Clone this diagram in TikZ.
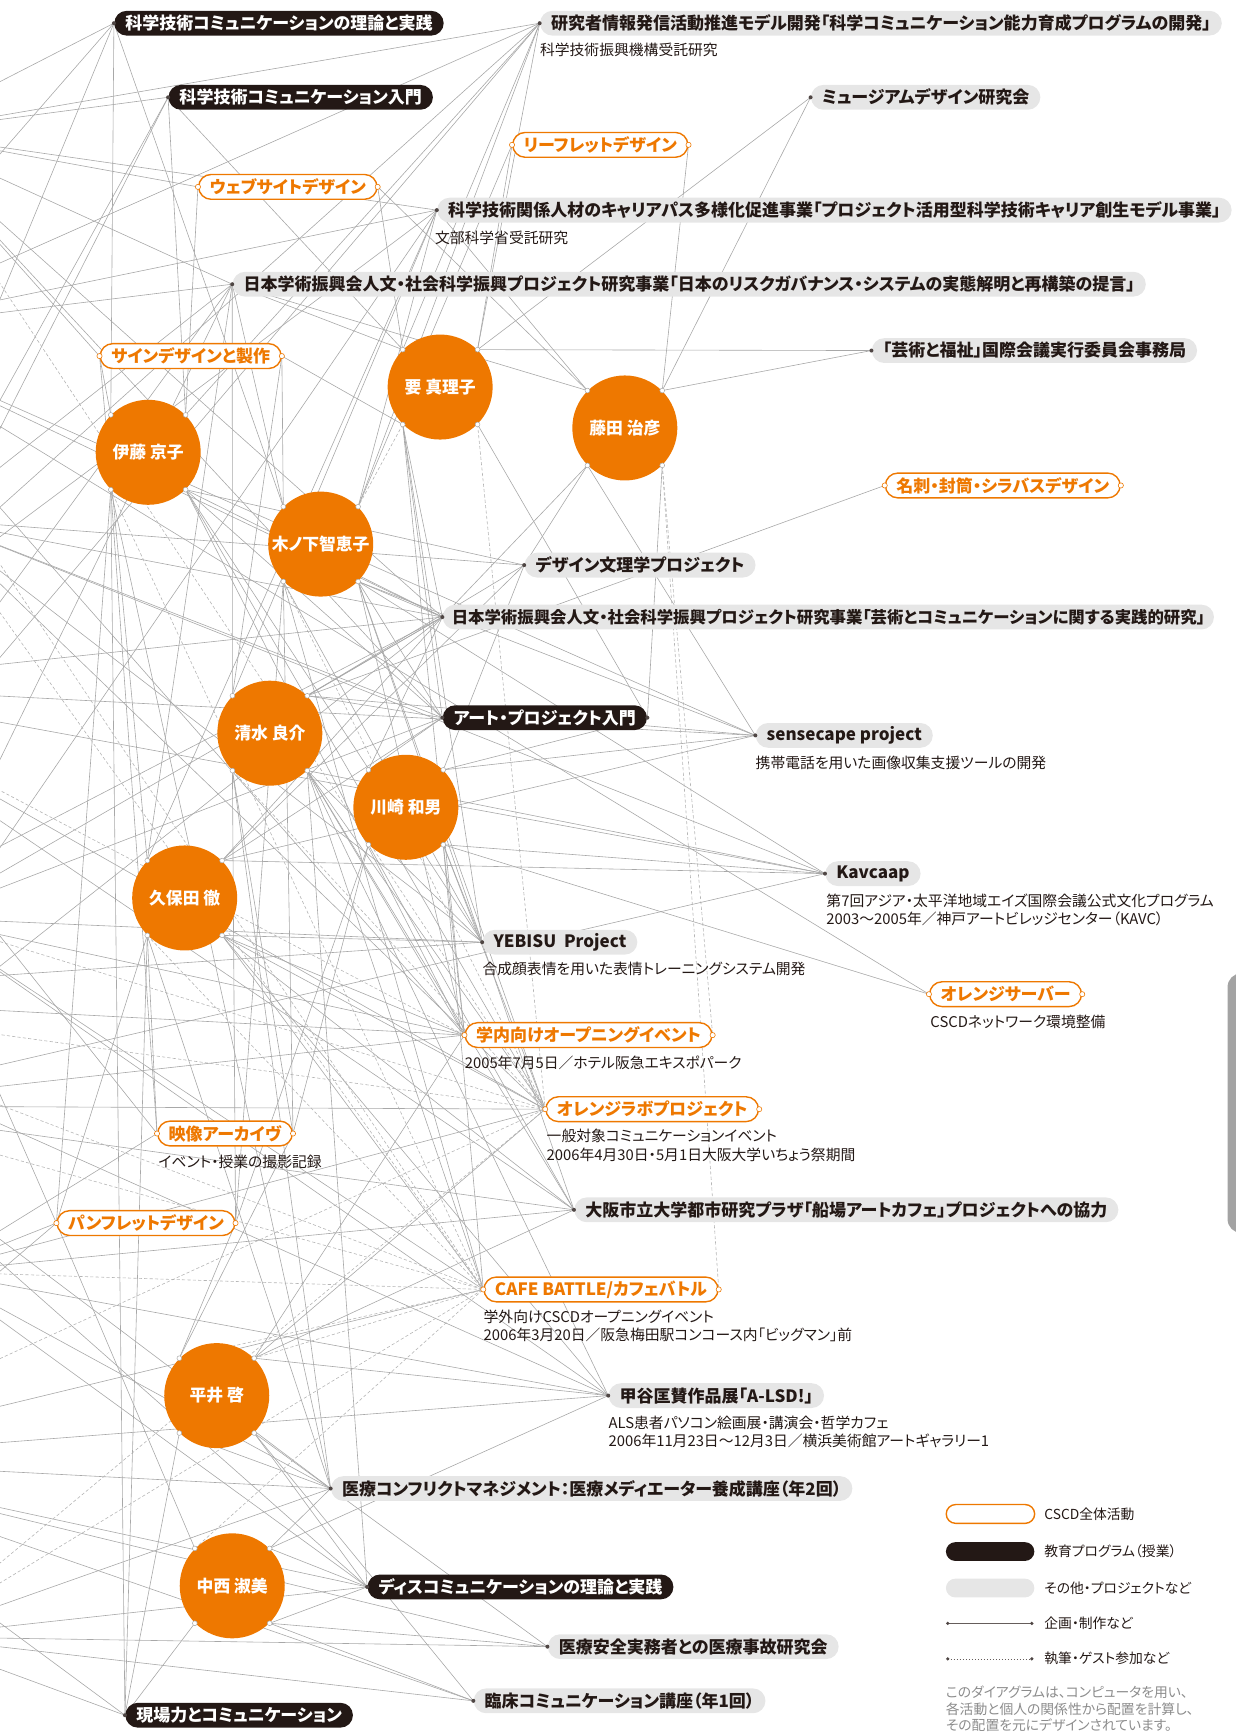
\documentclass[tikz,border=0pt]{standalone}
\usepackage{fontspec}
\setmainfont{Noto Sans CJK JP}[RawFeature=+palt]
\usetikzlibrary{backgrounds}

\definecolor{cscdorange}{HTML}{EE7800}
\definecolor{edublack}{HTML}{231815}
\definecolor{projgray}{HTML}{E6E6E6}
\definecolor{linegray}{HTML}{A8A8A8}
\definecolor{notegray}{HTML}{8C8C8C}
\definecolor{tabgray}{HTML}{A3A3A3}

\newcommand\labfont{\fontsize{8.5pt}{10pt}\selectfont\bfseries}
\newcommand\namefont{\fontsize{8.4pt}{10pt}\selectfont\bfseries}
\newcommand\subfont{\fontsize{7.4pt}{9pt}\selectfont}
\newcommand\legfont{\fontsize{6.9pt}{8pt}\selectfont}

\tikzset{
  pill/.style={rectangle, rounded corners=6.2pt, minimum height=12.4pt,
    inner xsep=5.5pt, inner ysep=0pt, font=\labfont, anchor=west},
  edu/.style={pill, fill=edublack, text=white},
  proj/.style={pill, fill=projgray, text=edublack},
  cscd/.style={pill, draw=cscdorange, line width=0.7pt, fill=white, text=cscdorange},
  person/.style={circle, fill=cscdorange, minimum size=52.5pt, inner sep=0pt,
    text=white, font=\namefont},
  subline/.style={font=\subfont, text=edublack, inner sep=0pt, anchor=west},
  legtext/.style={font=\legfont, text=edublack, inner sep=0pt, anchor=west},
  notetext/.style={font=\legfont, text=notegray, inner sep=0pt, anchor=west},
  link/.style={draw=linegray, line width=0.3pt},
  dlink/.style={draw=linegray!85, line width=0.3pt, dash pattern=on 1.6pt off 1.1pt},
  enddot/.style={fill=edublack!80},
  cscddot/.style={draw=cscdorange, fill=white, line width=0.3pt},
  persondot/.style={draw=linegray, fill=white, line width=0.25pt},
}

\begin{document}
\begin{tikzpicture}[x=0.5528pt, y=-0.5528pt]
\useasboundingbox (0,0) rectangle (1117,1568);

% side tab at the right edge
\fill[tabgray, rounded corners=7pt] (1110,880) rectangle (1150,1115);

% ---------- education programmes ----------
\node[edu] (B1) at (103,21) {科学技術コミュニケーションの理論と実践};
\node[edu] (B2) at (152,88) {科学技術コミュニケーション入門};
\node[edu] (B3) at (400,649) {アート・プロジェクト入門};
\node[edu] (B4) at (332,1435) {ディスコミュニケーションの理論と実践};
\node[edu] (B5) at (113,1551) {現場力とコミュニケーション};

% ---------- projects ----------
\node[proj] (G1) at (488,21) {研究者情報発信活動推進モデル開発「科学コミュニケーション能力育成プログラムの開発」};
\node[proj] (G2) at (733,88) {ミュージアムデザイン研究会};
\node[proj] (G3) at (395,190) {科学技術関係人材のキャリアパス多様化促進事業「プロジェクト活用型科学技術キャリア創生モデル事業」};
\node[proj] (G4) at (210,257) {日本学術振興会人文・社会科学振興プロジェクト研究事業「日本のリスクガバナンス・システムの実態解明と再構築の提言」};
\node[proj] (G5) at (788,317) {「芸術と福祉」国際会議実行委員会事務局};
\node[proj] (G6) at (474,511) {デザイン文理学プロジェクト};
\node[proj, font=\fontsize{8.2pt}{10pt}\selectfont\bfseries, inner xsep=4.5pt] (G7) at (400,558) {日本学術振興会人文・社会科学振興プロジェクト研究事業「芸術とコミュニケーションに関する実践的研究」};
\node[proj] (G8) at (683,665) {sensecape project};
\node[proj] (G9) at (746,790) {Kavcaap};
\node[proj] (G10) at (436,852) {YEBISU\ \ Project};
\node[proj] (G11) at (519,1094) {大阪市立大学都市研究プラザ「船場アートカフェ」プロジェクトへの協力};
\node[proj] (G12) at (550,1262) {甲谷匡賛作品展「A-LSD!」};
\node[proj] (G13) at (299,1346) {医療コンフリクトマネジメント：医療メディエーター養成講座（年2回）};
\node[proj] (G14) at (495,1489) {医療安全実務者との医療事故研究会};
\node[proj] (G15) at (428,1538) {臨床コミュニケーション講座（年1回）};

% ---------- CSCD-wide activities ----------
\node[cscd] (O1) at (463,131) {リーフレットデザイン};
\node[cscd] (O2) at (179,169) {ウェブサイトデザイン};
\node[cscd] (O3) at (90,322) {サインデザインと製作};
\node[cscd] (O4) at (800,439) {名刺・封筒・シラバスデザイン};
\node[cscd] (O5) at (840,899) {オレンジサーバー};
\node[cscd] (O6) at (420,936) {学内向けオープニングイベント};
\node[cscd] (O7) at (493,1003) {オレンジラボプロジェクト};
\node[cscd] (O8) at (142,1025) {映像アーカイヴ};
\node[cscd] (O9) at (51,1106) {パンフレットデザイン};
\node[cscd] (O10) at (437,1166) {CAFE BATTLE/カフェバトル};

% ---------- captions ----------
\node[subline] (sG1) at (488,45) {科学技術振興機構受託研究};
\node[subline] (sG3) at (393,215) {文部科学省受託研究};
\node[subline] (sG8) at (683,690) {携帯電話を用いた画像収集支援ツールの開発};
\node[subline] (sG9a) at (747,815) {第7回アジア・太平洋地域エイズ国際会議公式文化プログラム};
\node[subline] (sG9b) at (747,831) {2003〜2005年／神戸アートビレッジセンター（KAVC）};
\node[subline] (sG10) at (436,876) {合成顔表情を用いた表情トレーニングシステム開発};
\node[subline] (sO5) at (841,924) {CSCDネットワーク環境整備};
\node[subline] (sO6) at (420,961) {2005年7月5日／ホテル阪急エキスポパーク};
\node[subline] (sO7a) at (494,1027) {一般対象コミュニケーションイベント};
\node[subline] (sO7b) at (494,1044) {2006年4月30日・5月1日大阪大学いちょう祭期間};
\node[subline] (sO8) at (143,1051) {イベント・授業の撮影記録};
\node[subline] (sO10a) at (437,1191) {学外向けCSCDオープニングイベント};
\node[subline] (sO10b) at (437,1207) {2006年3月20日／阪急梅田駅コンコース内「ビッグマン」前};
\node[subline] (sG12a) at (550,1287) {ALS患者パソコン絵画展・講演会・哲学カフェ};
\node[subline] (sG12b) at (550,1303) {2006年11月23日〜12月3日／横浜美術館アートギャラリー1};

% ---------- people ----------
\node[person] (ito) at (134,409) {伊藤 京子};
\node[person] (kaname) at (398,350) {要 真理子};
\node[person] (fujita) at (565,387) {藤田 治彦};
\node[person] (kino) at (290,492) {木ノ下智恵子};
\node[person] (shimizu) at (244,663) {清水 良介};
\node[person] (kawa) at (367,730) {川崎 和男};
\node[person] (kubota) at (167,812) {久保田 徹};
\node[person] (hirai) at (196,1262) {平井 啓};
\node[person] (naka) at (210,1434) {中西 淑美};

\foreach \p in {ito,kaname,fujita,kino,shimizu,kawa,kubota,hirai,naka}{
  \coordinate (\p-nw) at (\p.north west);
  \coordinate (\p-ne) at (\p.north east);
  \coordinate (\p-sw) at (\p.south west);
  \coordinate (\p-se) at (\p.south east);
}

% members placed beyond the left edge
\coordinate (X1) at (-90,120);
\coordinate (X2) at (-140,300);
\coordinate (X3) at (-60,470);
\coordinate (X4) at (-180,620);
\coordinate (X5) at (-70,830);
\coordinate (X6) at (-160,1000);
\coordinate (X7) at (-60,1150);
\coordinate (X8) at (-200,1320);
\coordinate (X9) at (-80,1480);
\coordinate (X10) at (-260,900);

% ---------- legend ----------
\node[cscd, minimum width=44.2pt, minimum height=9.4pt, rounded corners=4.7pt] (leg1) at (855,1369) {};
\node[edu, minimum width=44.2pt, minimum height=9.4pt, rounded corners=4.7pt] (leg2) at (855,1403) {};
\node[proj, minimum width=44.2pt, minimum height=9.4pt, rounded corners=4.7pt] (leg3) at (855,1436) {};
\node[legtext] (lt1) at (944,1369) {CSCD全体活動};
\node[legtext] (lt2) at (944,1403) {教育プログラム（授業）};
\node[legtext] (lt3) at (944,1436) {その他・プロジェクトなど};
\node[legtext] (lt4) at (944,1468) {企画・制作など};
\node[legtext] (lt5) at (944,1500) {執筆・ゲスト参加など};
\coordinate (l4a) at (857,1468); \coordinate (l4b) at (933,1468);
\coordinate (l5a) at (857,1500); \coordinate (l5b) at (933,1500);
\draw[link, draw=edublack!70] (l4a) -- (l4b);
\draw[draw=edublack!70, line width=0.32pt, dash pattern=on 0.6pt off 0.9pt] (l5a) -- (l5b);
\foreach \c in {l4a,l4b,l5a,l5b} \fill[enddot] (\c) circle (0.9pt);
\node[notetext] (n1) at (855,1530) {このダイアグラムは、コンピュータを用い、};
\node[notetext] (n2) at (855,1546) {各活動と個人の関係性から配置を計算し、};
\node[notetext] (n3) at (855,1560) {その配置を元にデザインされています。};

% ---------- connections ----------
\begin{pgfonlayer}{background}
\foreach \a/\b in {
  ito-nw/B1.west, ito-nw/O3.west, ito-ne/B2.west, ito-ne/O2.west, ito-ne/G1.west,
  ito-se/G7.west, ito-se/B3.west, ito-se/G10.west, ito-se/O6.west, ito-se/O7.west,
  ito-se/G6.west, ito-sw/O8.west, ito-sw/O9.west, ito-sw/G13.west, ito-sw/B5.west,
  kaname-nw/O2.east, kaname-nw/G4.west, kaname-nw/B2.west, kaname-nw/G1.west,
  kaname-ne/G5.west, kaname-ne/G2.west, kaname-ne/O1.west, kaname-ne/G1.west,
  kaname-sw/G7.west, kaname-sw/B3.west, kaname-sw/O6.west, kaname-sw/G10.west,
  kaname-sw/O3.east, kaname-se/B3.east,
  fujita-nw/O2.east, fujita-nw/G3.west, fujita-nw/G4.west, fujita-ne/O1.east,
  fujita-ne/G2.west, fujita-ne/G5.west, fujita-sw/G6.west, fujita-sw/G7.west,
  fujita-sw/G8.west, fujita-se/B3.east,
  kino-nw/O3.east, kino-nw/G4.west, kino-nw/B1.west, kino-ne/G1.west,
  kino-ne/O1.west, kino-ne/G3.west, kino-se/G7.west, kino-se/G8.west,
  kino-se/G9.west, kino-se/B3.west, kino-se/O7.west, kino-se/O6.west,
  kino-se/G11.west, kino-sw/O8.east, kino-sw/G10.west, kino-sw/O10.west,
  kino-sw/O9.east,
  shimizu-nw/G4.west, shimizu-nw/O3.east, shimizu-nw/G3.west, shimizu-ne/O4.west,
  shimizu-ne/G6.west, shimizu-ne/G7.west, shimizu-ne/B3.west, shimizu-ne/G8.west,
  shimizu-se/G9.west, shimizu-se/G10.west, shimizu-se/O6.west, shimizu-se/O7.west,
  shimizu-se/O10.west, shimizu-se/G11.west, shimizu-se/G12.west, shimizu-se/B4.west,
  shimizu-sw/O8.east, shimizu-sw/O9.east, shimizu-sw/G13.west,
  kawa-nw/G7.west, kawa-nw/B3.west, kawa-ne/G8.west, kawa-ne/G6.west,
  kawa-ne/B3.east, kawa-se/G9.west, kawa-se/G10.west, kawa-se/O5.west,
  kawa-se/O6.west, kawa-se/O7.west, kawa-se/O10.west, kawa-sw/O8.east,
  kawa-sw/O9.east, kawa-sw/G11.west,
  kubota-nw/G4.west, kubota-nw/O3.west, kubota-nw/G3.west, kubota-ne/G7.west,
  kubota-ne/B3.west, kubota-ne/G8.west, kubota-ne/G9.west, kubota-ne/G6.west,
  kubota-se/O6.west, kubota-se/O7.west, kubota-se/O10.west, kubota-se/G11.west,
  kubota-se/G12.west, kubota-se/G10.west, kubota-sw/O8.west, kubota-sw/O9.west,
  kubota-sw/G13.west, kubota-sw/B5.west,
  hirai-nw/O9.east, hirai-nw/O8.east, hirai-ne/O7.west, hirai-ne/O6.west,
  hirai-ne/G11.west, hirai-ne/G12.west, hirai-se/B4.west, hirai-se/G15.west,
  hirai-se/G14.west, hirai-sw/B5.west, hirai-sw/G13.west,
  naka-ne/G13.west, naka-ne/B4.west, naka-ne/G12.west, naka-se/G14.west,
  naka-se/B4.west, naka-se/G15.west, naka-sw/B5.west, naka-nw/O9.west,
  X1/B1.west, X1/B2.west, X1/G1.west, X1/G3.west, X1/G4.west, X1/O2.west,
  X1/O3.west, X1/G7.west, X1/B3.west,
  X2/B1.west, X2/G1.west, X2/G3.west, X2/G4.west, X2/G7.west, X2/O6.west,
  X2/G8.west, X2/O5.west,
  X3/B2.west, X3/G4.west, X3/G6.west, X3/G7.west, X3/B3.west, X3/G10.west,
  X3/O7.west, X3/G9.west,
  X4/G1.west, X4/G3.west, X4/G7.west, X4/G8.west, X4/G9.west, X4/O7.west,
  X4/G11.west, X4/O8.west,
  X5/G4.west, X5/G7.west, X5/B3.west, X5/G10.west, X5/O6.west, X5/O10.west,
  X5/G12.west, X5/O9.west,
  X6/G3.west, X6/G7.west, X6/G9.west, X6/O6.west, X6/O7.west, X6/G11.west,
  X6/G13.west, X6/B4.west,
  X7/O8.west, X7/O9.west, X7/O7.west, X7/G11.west, X7/G12.west, X7/B4.west,
  X7/G13.west,
  X8/O9.west, X8/O10.west, X8/G12.west, X8/G13.west, X8/B4.west, X8/G14.west,
  X8/G15.west, X8/B5.west,
  X9/G13.west, X9/B4.west, X9/G14.west, X9/G15.west, X9/B5.west,
  X10/B1.west, X10/B2.west, X10/G1.west, X10/G4.west, X10/G7.west,
  X10/G10.west, X10/O6.west, X10/G12.west}
  \draw[link] (\a) -- (\b);
\foreach \a/\b in {
  kaname-se/O7.west, fujita-se/O6.east, fujita-se/O10.east, hirai-ne/O10.west,
  hirai-nw/O10.west, naka-nw/O10.west, kubota-sw/O10.west, shimizu-sw/O7.west,
  ito-sw/O10.west, kino-sw/O7.west, kaname-sw/kino-ne,
  X1/O7.west, X2/O10.west, X3/O10.west, X4/O6.west, X5/O7.west, X6/O10.west,
  X7/O10.west, X8/O7.west, X9/O10.west, X9/O7.west, X10/O10.west, X10/O7.west}
  \draw[dlink] (\a) -- (\b);
\end{pgfonlayer}

% ---------- anchor marks ----------
\foreach \n in {B1,B2,B3,B4,B5,G1,G2,G3,G4,G5,G6,G7,G8,G9,G10,G11,G12,G13,G14,G15}
  \fill[enddot] (\n.west) circle (1pt);
\fill[enddot] (B3.east) circle (1pt);
\foreach \n in {O1,O2,O3,O4,O5,O6,O7,O8,O9,O10}{
  \filldraw[cscddot] (\n.west) circle (1.3pt);
  \filldraw[cscddot] (\n.east) circle (1.3pt);
}
\foreach \p in {ito,kaname,fujita,kino,shimizu,kawa,kubota,hirai,naka}
  \foreach \a in {nw,ne,sw,se}
    \filldraw[persondot] (\p-\a) circle (1.2pt);
\end{tikzpicture}
\end{document}
